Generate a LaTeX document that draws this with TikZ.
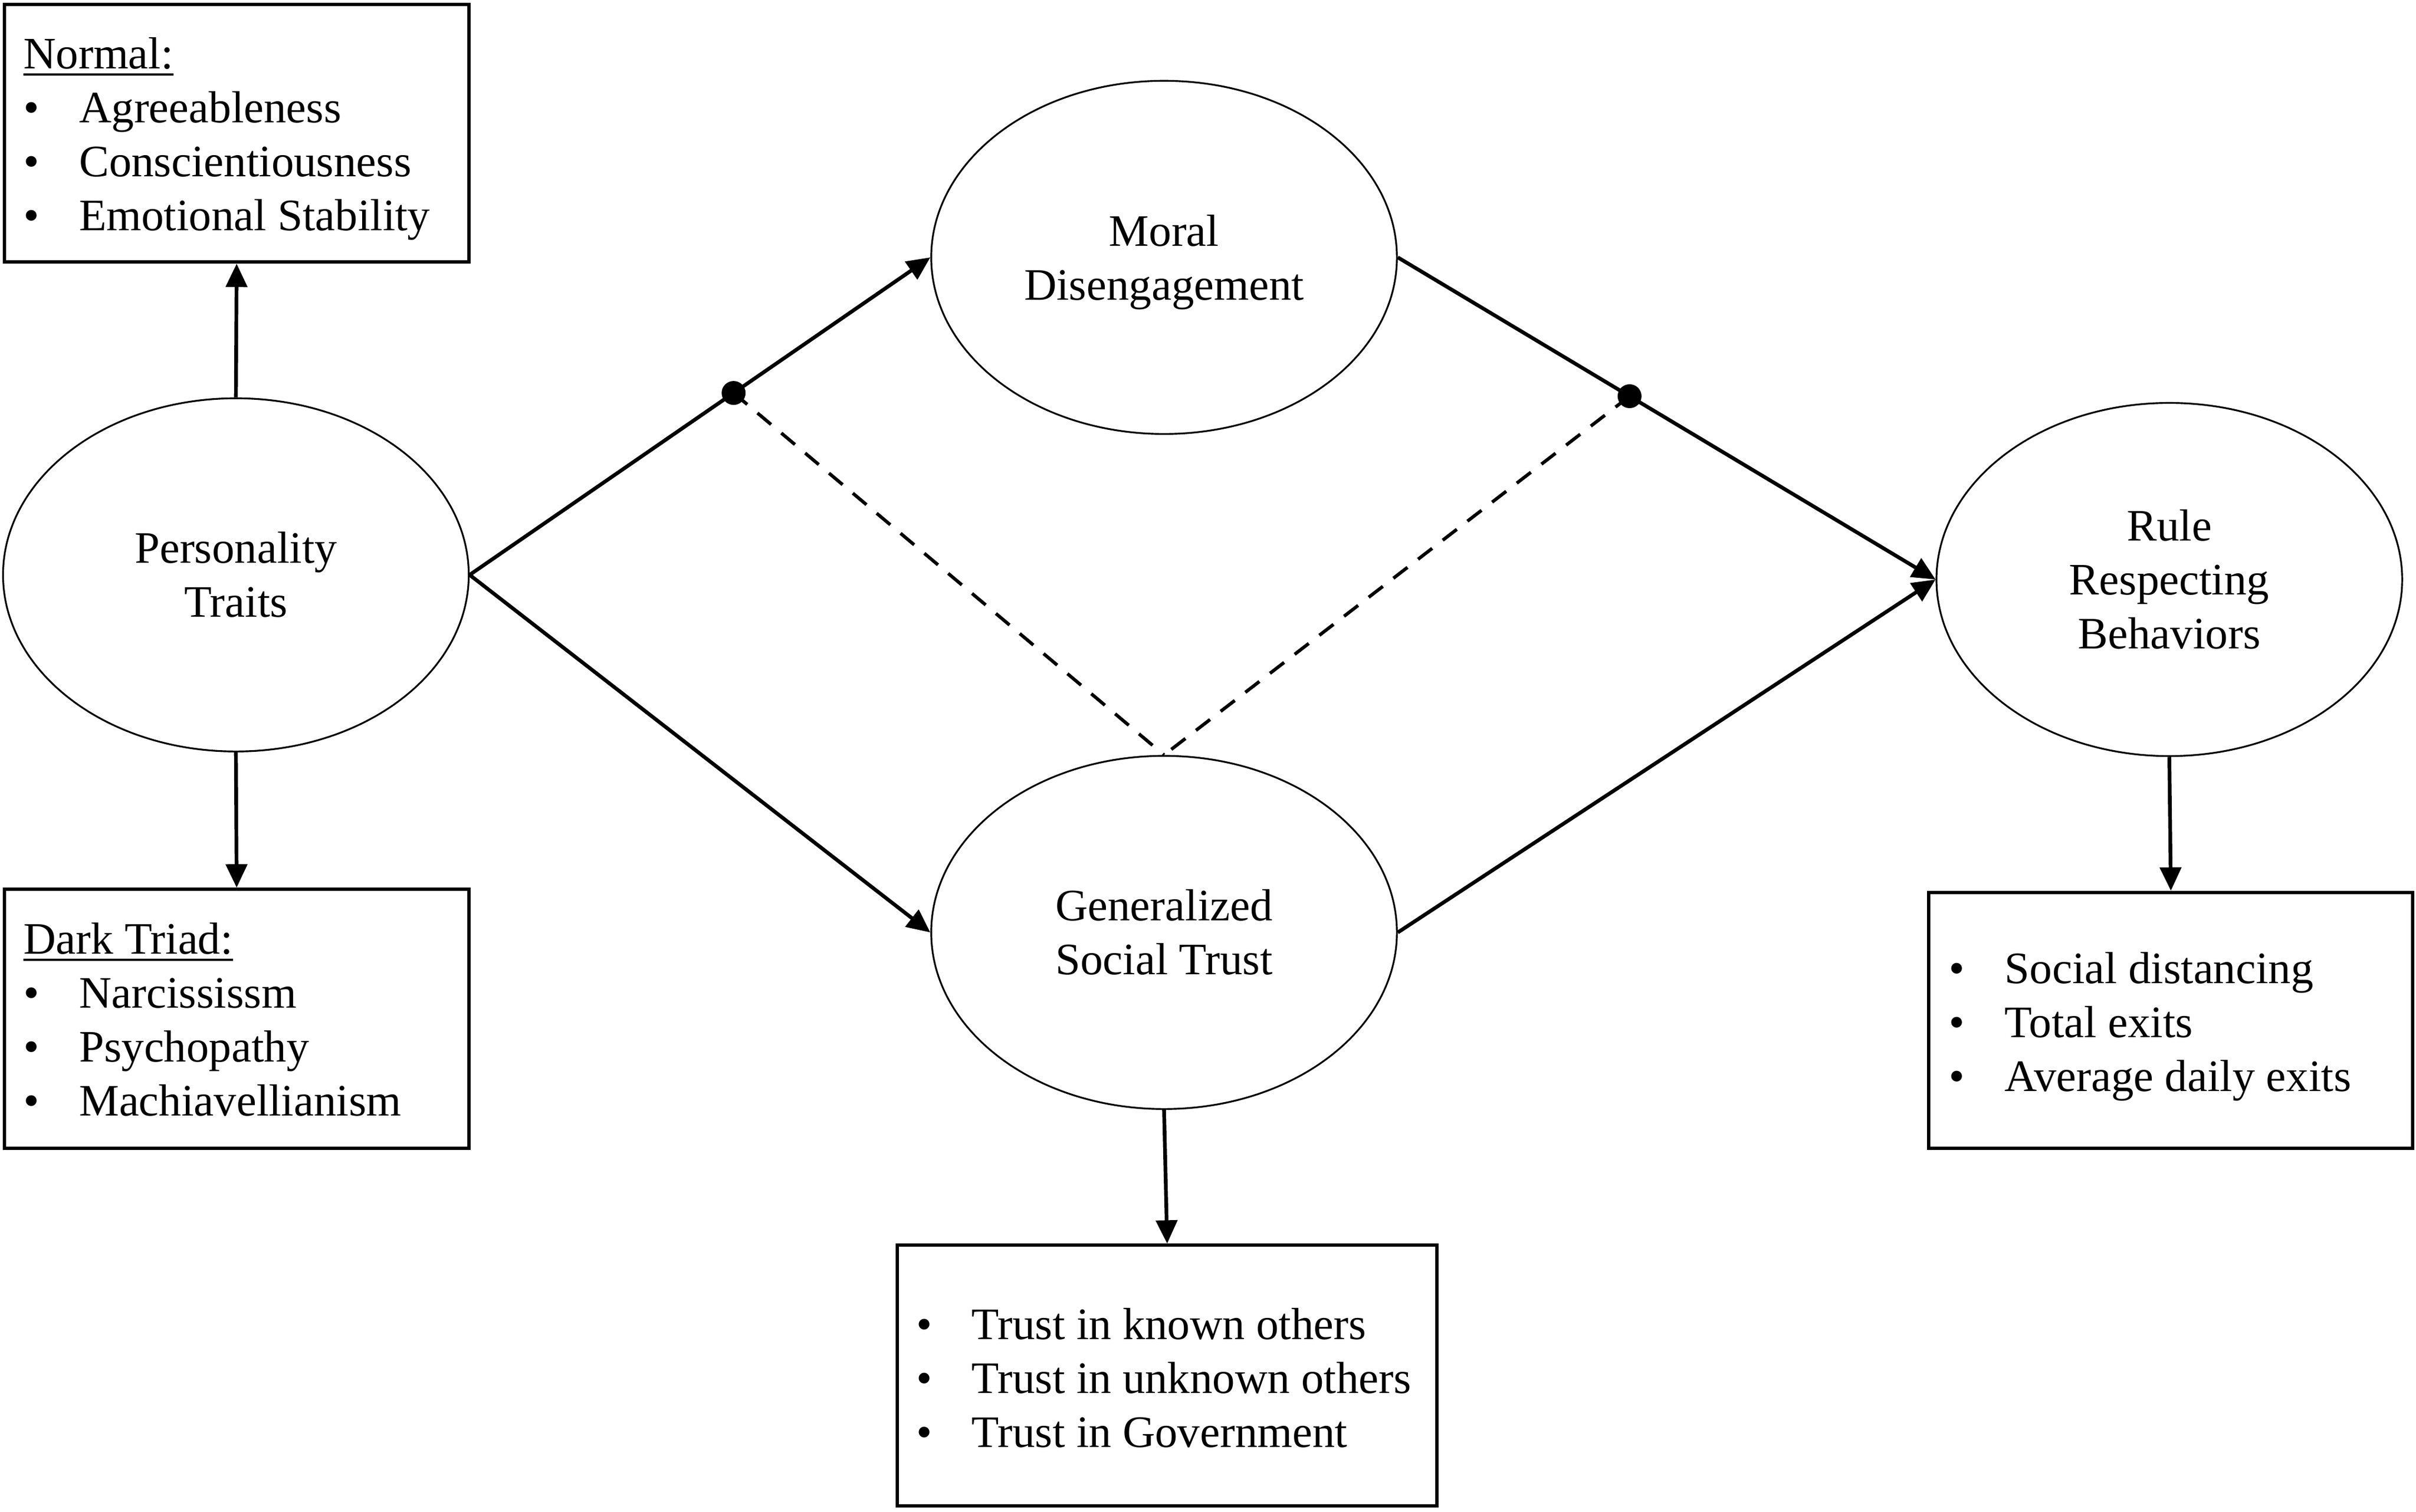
\documentclass[tikz,border=0pt]{standalone}
\usepackage{fontspec}
\setmainfont{Liberation Serif}
\usetikzlibrary{arrows.meta,shapes.geometric}
\newcommand{\bul}{\makebox[1.0cm][l]{•}}
\newcommand{\ulin}[1]{\sbox0{#1}\rlap{\rule[-3.5pt]{\wd0}{1.1pt}}\usebox0}
\newcommand{\nodep}[1]{\raisebox{0pt}[\height][0pt]{#1}}
\begin{document}
\begin{tikzpicture}[x=0.027715cm,y=-0.027715cm,
  latent/.style={ellipse,draw,line width=0.9pt,minimum width=8.37cm,minimum height=6.35cm,align=center,inner sep=0pt,font=\fontsize{23}{27.6}\selectfont},
  listbox/.style={draw,line width=1.7pt,rectangle,inner sep=0pt},
  listtext/.style={anchor=west,align=left,inner sep=0pt,font=\fontsize{23}{27.6}\selectfont},
  causal/.style={line width=1.9pt,-{Triangle[length=0.42cm,width=0.38cm]}},
  moder/.style={line width=1.7pt,dash pattern=on 0.32cm off 0.24cm},
  dotmark/.style={fill=black}]
\useasboundingbox (0,0) rectangle (1567,981);

% ellipses
\node[latent] (pt)  at (153,373)  {Personality\\Traits};
\node[latent] (md)  at (755,167)  {Moral\\\nodep{Disengagement}};
\node[latent] (gst) at (755,605)  {Generalized\\Social Trust};
\node[latent] (rrb) at (1407,376) {Rule\\Respecting\\Behaviors};

% boxes
\node[listbox,minimum width=8.342cm,minimum height=4.628cm] (nbox) at (153.5,86.5) {};
\node[listbox,minimum width=8.342cm,minimum height=4.656cm] (dbox) at (153.5,661) {};
\node[listbox,minimum width=9.70cm,minimum height=4.684cm] (gbox) at (757,892.5) {};
\node[listbox,minimum width=8.70cm,minimum height=4.60cm] (rbox) at (1408,662) {};

\node[listtext] (ntext) at (15,90) {\ulin{Normal:}\\\bul Agreeableness\\\bul Conscientiousness\\\bul Emotional Stability};
\node[listtext] (dtext) at (15,661.5) {\ulin{Dark Triad:}\\\bul Narcississm\\\bul Psychopathy\\\bul Machiavellianism};
\node[listtext] (gtext) at (594,894) {\bul Trust in known others\\\bul Trust in unknown others\\\bul Trust in Government};
\node[listtext] (rtext) at (1264,666) {\bul Social distancing\\\bul Total exits\\\bul Average daily exits};

% vertical arrows
\draw[causal] (pt.north) -- (nbox.south);
\draw[causal] (pt.south) -- (dbox.north);
\draw[causal] (gst.south) -- (gbox.north);
\draw[causal] (rrb.south) -- (rbox.north);

% main paths
\draw[causal] (pt.east) -- (md.west) coordinate[pos=0.573] (d1);
\draw[causal] (pt.east) -- (gst.west);
\draw[causal] (md.east) -- (rrb.west) coordinate[pos=0.431] (d2);
\draw[causal] (gst.east) -- (rrb.west);

% moderation
\draw[moder] (d1) -- (gst.north);
\draw[moder] (d2) -- (gst.north);
\fill[dotmark] (d1) circle[radius=0.215cm];
\fill[dotmark] (d2) circle[radius=0.215cm];
\end{tikzpicture}
\end{document}
